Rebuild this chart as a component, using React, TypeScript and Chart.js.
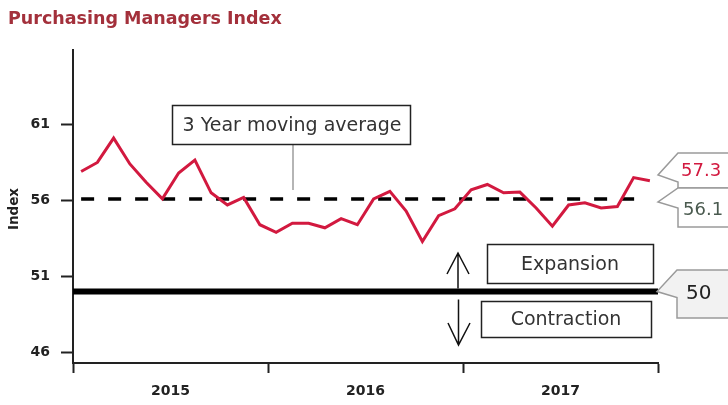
import React, { useEffect, useRef } from "react";
import { Chart, registerables } from "chart.js";

Chart.register(...registerables);

const TITLE = "Purchasing Managers Index";
const Y_TITLE = "Index";

const months = [
  "Jan 2015", "Feb 2015", "Mar 2015", "Apr 2015", "May 2015", "Jun 2015",
  "Jul 2015", "Aug 2015", "Sep 2015", "Oct 2015", "Nov 2015", "Dec 2015",
  "Jan 2016", "Feb 2016", "Mar 2016", "Apr 2016", "May 2016", "Jun 2016",
  "Jul 2016", "Aug 2016", "Sep 2016", "Oct 2016", "Nov 2016", "Dec 2016",
  "Jan 2017", "Feb 2017", "Mar 2017", "Apr 2017", "May 2017", "Jun 2017",
  "Jul 2017", "Aug 2017", "Sep 2017", "Oct 2017", "Nov 2017", "Dec 2017",
];

const pmiValues = [
  57.9, 58.5, 60.1, 58.4, 57.2, 56.1, 57.8, 58.65, 56.5, 55.7, 56.2, 54.4,
  53.9, 54.5, 54.5, 54.2, 54.8, 54.4, 56.1, 56.6, 55.3, 53.3, 55.0, 55.45,
  56.7, 57.05, 56.5, 56.55, 55.5, 54.3, 55.7, 55.85, 55.5, 55.6, 57.5, 57.3,
];

const movingAverage = 56.1;
const thresholdValue = 50;
const latestValue = 57.3;

const yearLabels = ["2015", "2016", "2017"];
const yTicks = [46, 51, 56, 61];

const LINE_COLOR = "#d2193f";

function drawCallout(
  ctx: CanvasRenderingContext2D,
  left: number,
  top: number,
  bottom: number,
  tipX: number,
  tipY: number,
  retY: number,
  fill: string,
  text: string,
  color: string,
  font: string,
  textX: number,
  textY: number
) {
  ctx.save();
  ctx.beginPath();
  ctx.moveTo(740, top);
  ctx.lineTo(left, top);
  ctx.lineTo(tipX, tipY);
  ctx.lineTo(left, retY);
  ctx.lineTo(left, bottom);
  ctx.lineTo(740, bottom);
  ctx.closePath();
  ctx.fillStyle = fill;
  ctx.fill();
  ctx.strokeStyle = "#9a9a9a";
  ctx.lineWidth = 1.5;
  ctx.stroke();
  ctx.fillStyle = color;
  ctx.font = font;
  ctx.textAlign = "left";
  ctx.textBaseline = "middle";
  ctx.fillText(text, textX, textY);
  ctx.restore();
}

const annotationPlugin = {
  id: "pmiAnnotations",
  afterDraw(chart: any) {
    const ctx: CanvasRenderingContext2D = chart.ctx;
    const ys = chart.scales.y;
    ctx.save();

    // Title
    ctx.fillStyle = "#a3303b";
    ctx.font = 'bold 17.5px "DejaVu Sans"';
    ctx.textAlign = "left";
    ctx.textBaseline = "middle";
    ctx.fillText(TITLE, 8, 19);

    // Y axis title
    ctx.save();
    ctx.translate(14, 209);
    ctx.rotate(-Math.PI / 2);
    ctx.font = 'bold 13.5px "DejaVu Sans"';
    ctx.fillStyle = "#222";
    ctx.textAlign = "center";
    ctx.textBaseline = "middle";
    ctx.fillText(Y_TITLE, 0, 0);
    ctx.restore();

    const annFont = '19px "DejaVu Sans"';

    // Moving average label box
    const avgY = ys.getPixelForValue(movingAverage);
    ctx.strokeStyle = "#b5b5b5";
    ctx.lineWidth = 2;
    ctx.beginPath();
    ctx.moveTo(293, 145);
    ctx.lineTo(293, avgY - 9);
    ctx.stroke();

    ctx.fillStyle = "#fff";
    ctx.fillRect(172, 105, 238, 39);
    ctx.strokeStyle = "#222";
    ctx.lineWidth = 1.5;
    ctx.strokeRect(172.5, 105.5, 238, 39);
    ctx.fillStyle = "#333";
    ctx.font = annFont;
    ctx.textAlign = "center";
    ctx.textBaseline = "middle";
    ctx.fillText("3 Year moving average", 292, 126);

    // Expansion / Contraction boxes
    ctx.strokeStyle = "#222";
    ctx.lineWidth = 1.5;
    ctx.strokeRect(487.5, 244.5, 166, 39);
    ctx.fillText("Expansion", 570, 265);
    ctx.strokeRect(481.5, 301.5, 170, 36);
    ctx.fillText("Contraction", 566, 320);

    // Arrows
    const y50 = ys.getPixelForValue(thresholdValue);
    ctx.strokeStyle = "#111";
    ctx.lineWidth = 1.5;
    ctx.beginPath();
    ctx.moveTo(458, y50 - 3);
    ctx.lineTo(458, 253);
    ctx.moveTo(447, 274);
    ctx.lineTo(458, 253);
    ctx.lineTo(469, 274);
    ctx.moveTo(458.5, y50 + 8);
    ctx.lineTo(458.5, 345);
    ctx.moveTo(448, 323);
    ctx.lineTo(458.5, 345);
    ctx.lineTo(470, 323);
    ctx.stroke();

    // Callouts
    drawCallout(ctx, 678, 153, 188, 658, 175, 182, "#fff", String(latestValue), LINE_COLOR, '18px "DejaVu Sans"', 681, 171);
    drawCallout(ctx, 678, 188, 227, 658, 202, 208, "#fff", String(movingAverage), "#4a5a4f", '18px "DejaVu Sans"', 683, 210);
    drawCallout(ctx, 677, 270, 318, 657, y50, y50 + 6, "#f2f2f2", String(thresholdValue), "#222", '20px "DejaVu Sans"', 686, 294);

    ctx.restore();
  },
};

export default function App() {
  const canvasRef = useRef<HTMLCanvasElement | null>(null);

  useEffect(() => {
    document.body.style.margin = "0";
    const canvas = canvasRef.current;
    if (!canvas) return;

    const pmiData = pmiValues.map((v, i) => ({ x: i + 0.5, y: v, label: months[i] }));

    const chart = new Chart(canvas, {
      type: "line",
      data: {
        datasets: [
          {
            label: "Threshold",
            data: [
              { x: 0, y: thresholdValue },
              { x: 36, y: thresholdValue },
            ],
            borderColor: "#000",
            borderWidth: 6,
            pointRadius: 0,
            order: 3,
          },
          {
            label: "3 Year moving average",
            data: [
              { x: 0.5, y: movingAverage },
              { x: 34.7, y: movingAverage },
            ],
            borderColor: "#000",
            borderWidth: 3.5,
            borderDash: [13, 14],
            pointRadius: 0,
            order: 2,
          },
          {
            label: TITLE,
            data: pmiData,
            borderColor: LINE_COLOR,
            borderWidth: 3,
            pointRadius: 0,
            tension: 0,
            order: 1,
          },
        ],
      },
      options: {
        responsive: false,
        animation: false,
        devicePixelRatio: 1,
        layout: { padding: { left: 0, right: 70, top: 50, bottom: 0 } },
        plugins: {
          legend: { display: false },
          tooltip: { enabled: false },
        },
        scales: {
          x: {
            type: "linear",
            min: 0,
            max: 36,
            afterBuildTicks: (scale: any) => {
              scale.ticks = [0, 6, 12, 18, 24, 30, 36].map((v) => ({ value: v }));
            },
            afterFit: (scale: any) => {
              scale.height = 42;
            },
            border: { display: true, color: "#222", width: 2 },
            grid: {
              drawOnChartArea: false,
              drawTicks: true,
              tickLength: 10,
              tickWidth: 2,
              tickColor: (c: any) => (c.tick && c.tick.value % 12 === 0 ? "#222" : "rgba(0,0,0,0)"),
            },
            ticks: {
              autoSkip: false,
              maxRotation: 0,
              padding: 10,
              color: "#222",
              font: { family: "DejaVu Sans", size: 14, weight: "bold" },
              callback: (v: any) => {
                const n = Number(v);
                if (n % 12 === 6) return yearLabels[(n - 6) / 12];
                return "";
              },
            },
          },
          y: {
            type: "linear",
            min: 45.3,
            max: 65.9,
            afterBuildTicks: (scale: any) => {
              scale.ticks = yTicks.map((v) => ({ value: v }));
            },
            afterFit: (scale: any) => {
              scale.width = 73;
            },
            border: { display: true, color: "#222", width: 2 },
            grid: {
              drawOnChartArea: false,
              drawTicks: true,
              tickLength: 12,
              tickWidth: 2,
              tickColor: "#222",
            },
            ticks: {
              padding: 11,
              color: "#222",
              font: { family: "DejaVu Sans", size: 14, weight: "bold" },
            },
          },
        },
      },
      plugins: [annotationPlugin],
    } as any);

    return () => {
      chart.destroy();
    };
  }, []);

  return (
    <div style={{ width: 728, height: 405, position: "relative" }}>
      <canvas ref={canvasRef} width={728} height={405} />
    </div>
  );
}
